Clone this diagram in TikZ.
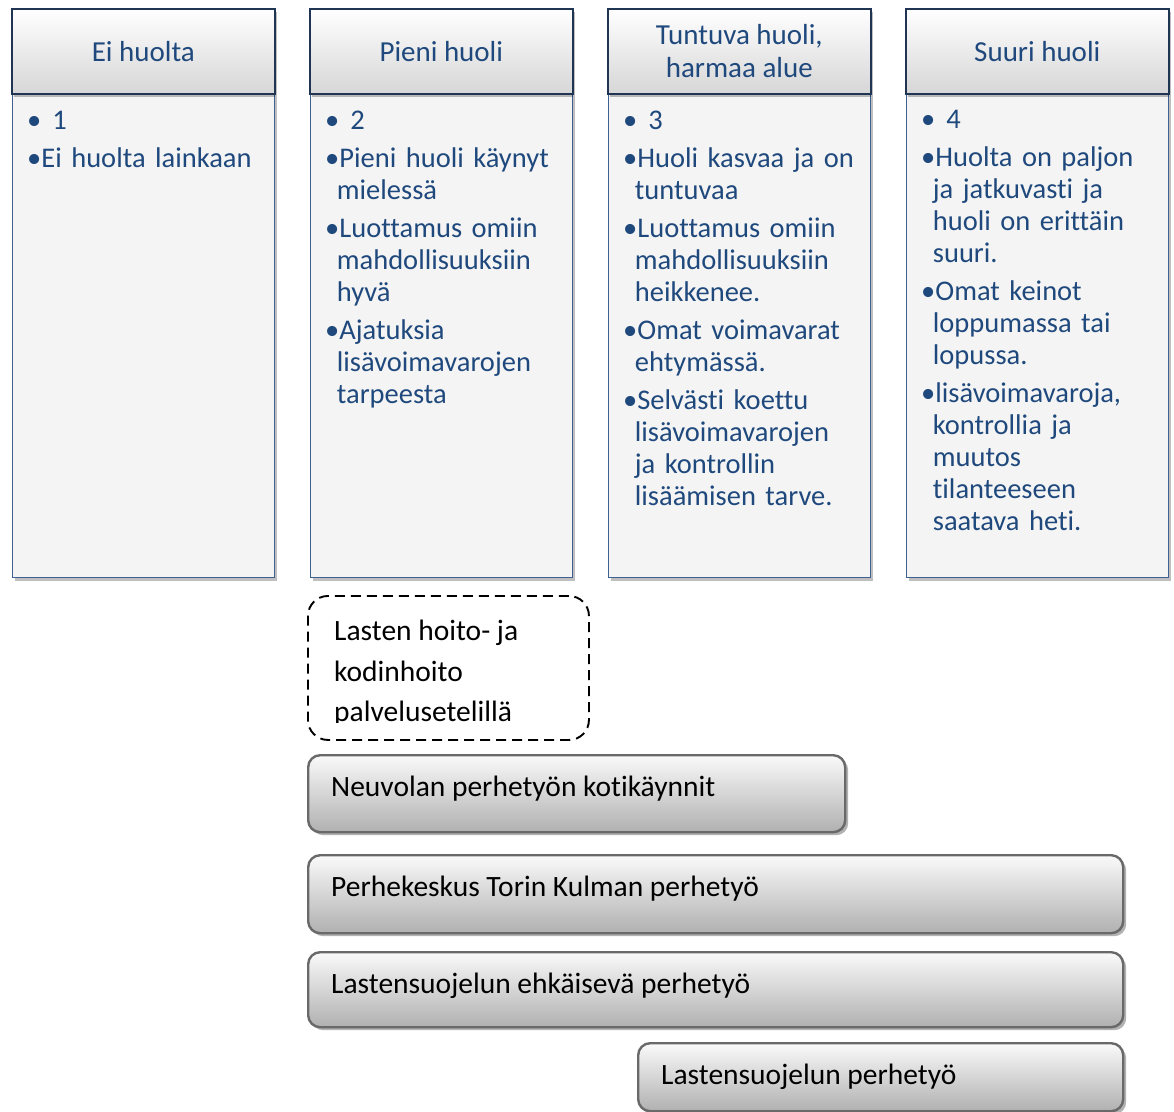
\documentclass[tikz,border=0pt]{standalone}
\usepackage{fontspec}
\setmainfont[Ligatures={NoCommon}]{Carlito}
\usetikzlibrary{shadows}
\definecolor{txtblue}{RGB}{31,73,125}
\definecolor{hdborder}{RGB}{32,52,84}
\definecolor{bdborder}{RGB}{62,96,146}
\definecolor{bodyfill}{RGB}{244,244,244}
\definecolor{barborder}{RGB}{105,105,105}
\newlength{\bulw}
\newcommand{\itm}[1]{\par\hangindent=\dimexpr\bulw-2.5pt\relax\hangafter=1\noindent\strut\textbullet#1}
\newcommand{\numitm}[1]{\noindent\strut\textbullet\hspace{11pt}#1}
\tikzset{
  hdr/.style={draw=hdborder, line width=1.6pt, top color=white, bottom color=gray!32,
    minimum width=263pt, minimum height=85pt, inner sep=0pt, anchor=north west,
    text=txtblue, font=\fontsize{29}{33}\selectfont, align=center,
    drop shadow={shadow xshift=2pt, shadow yshift=-3pt, opacity=0.25, fill=black}},
  bodybox/.style={draw=bdborder, line width=1.4pt, fill=bodyfill,
    minimum width=262pt, minimum height=484pt, inner sep=0pt, anchor=north west,
    drop shadow={shadow xshift=2pt, shadow yshift=-3pt, opacity=0.25, fill=black}},
  bodytxt/.style={anchor=north west, inner sep=0pt, text width=248pt, text=txtblue,
    font=\fontsize{28.5}{32}\selectfont\setlength{\parskip}{6pt}\settowidth{\bulw}{\textbullet}},
  bar/.style={draw=barborder, line width=2.4pt, rounded corners=12pt,
    top color=white!96!gray, bottom color=gray!62, inner sep=0pt, anchor=north west,
    drop shadow={shadow xshift=3pt, shadow yshift=-3pt, opacity=0.3, fill=black}},
  bartxt/.style={anchor=base west, inner sep=0pt, font=\fontsize{29.5}{35}\selectfont, text=black},
  dashbox/.style={draw=black, line width=1.9pt, dash pattern=on 10pt off 6pt, rounded corners=20pt,
    inner sep=0pt, anchor=north west}
}
\begin{document}
\begin{tikzpicture}[x=1pt,y=-1pt]
\useasboundingbox (0,0) rectangle (1174,1111);
% bodies
\node[bodybox] (b1) at (12,93) {};
\node[bodybox] (b2) at (310,93) {};
\node[bodybox] (b3) at (608,93) {};
\node[bodybox] (b4) at (906,93) {};
% headers
\node[hdr] (h1) at (11,8) {Ei huolta};
\node[hdr] (h2) at (309,8) {Pieni huoli};
\node[hdr] (h3) at (607,8) {Tuntuva huoli,\\harmaa alue};
\node[hdr] (h4) at (905,8) {Suuri huoli};
% body texts
\node[bodytxt] (t1) at (27,107) {\raggedright
  \numitm{1}
  \itm{Ei huolta lainkaan}\par};
\node[bodytxt] (t2) at (325,107) {\raggedright
  \numitm{2}
  \itm{Pieni huoli käynyt\newline mielessä}
  \itm{Luottamus omiin\newline mahdollisuuksiin\newline hyvä}
  \itm{Ajatuksia\newline lisävoimavarojen\newline tarpeesta}\par};
\node[bodytxt] (t3) at (623,107) {\raggedright
  \numitm{3}
  \itm{Huoli kasvaa ja on\newline tuntuvaa}
  \itm{Luottamus omiin\newline mahdollisuuksiin\newline heikkenee.}
  \itm{Omat voimavarat\newline ehtymässä.}
  \itm{Selvästi koettu\newline lisävoimavarojen\newline ja kontrollin\newline lisäämisen tarve.}\par};
\node[bodytxt] (t4) at (921,106) {\raggedright
  \numitm{4}
  \itm{Huolta on paljon\newline ja jatkuvasti ja\newline huoli on erittäin\newline suuri.}
  \itm{Omat keinot\newline loppumassa tai\newline lopussa.}
  \itm{lisävoimavaroja,\newline kontrollia ja\newline muutos\newline tilanteeseen\newline saatava heti.}\par};
% dashed box
\node[dashbox, minimum width=281pt, minimum height=144pt] (lh) at (307,595) {};
\begin{scope}
  \clip (300,600) rectangle (600,722);
  \node[anchor=north west, inner sep=0pt, align=left, font=\fontsize{29.5}{40.5}\selectfont]
    (lht) at (334,612) {\strut Lasten hoito- ja\\kodinhoito\\palvelusetelillä};
\end{scope}
% bars
\node[bar, minimum width=537pt, minimum height=77pt] (n1) at (307,754) {};
\node[bartxt] (n1t) at (331,796) {Neuvolan perhetyön kotikäynnit};
\node[bar, minimum width=815pt, minimum height=78pt] (n2) at (307,854) {};
\node[bartxt] (n2t) at (331,896) {Perhekeskus Torin Kulman perhetyö};
\node[bar, minimum width=815pt, minimum height=75pt] (n3) at (307,951) {};
\node[bartxt] (n3t) at (331,993) {Lastensuojelun ehkäisevä perhetyö};
\node[bar, minimum width=485pt, minimum height=68pt] (n4) at (637,1042) {};
\node[bartxt] (n4t) at (661,1084) {Lastensuojelun perhetyö};
\end{tikzpicture}
\end{document}
